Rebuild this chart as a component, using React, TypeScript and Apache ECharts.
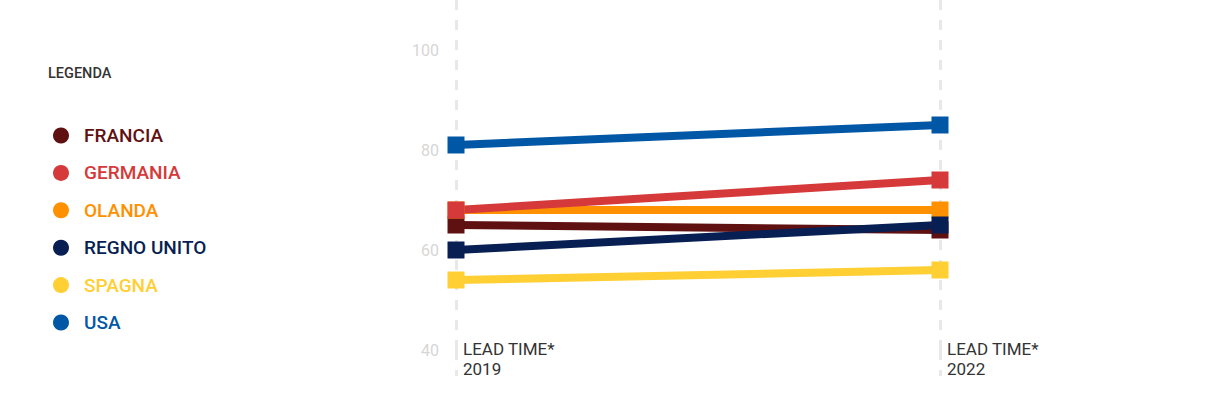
import React, { useEffect, useRef } from "react";
import * as echarts from "echarts";

const years = ["2019", "2022"];
const countries = ["FRANCIA", "GERMANIA", "OLANDA", "REGNO UNITO", "SPAGNA", "USA"];
const colors = ["#5f1111", "#d5393a", "#ff9000", "#071f52", "#ffcf33", "#0057a6"];
const francia = [65, 64];
const germania = [68, 74];
const olanda = [68, 68];
const regnoUnito = [60, 65];
const spagna = [54, 56];
const usa = [81, 85];
const values = [francia, germania, olanda, regnoUnito, spagna, usa];
// drawing order (later is on top)
const drawOrder = [0, 2, 1, 3, 4, 5];
const yTicks = [40, 60, 80, 100];

export default function App() {
  const ref = useRef<HTMLDivElement>(null);
  useEffect(() => {
    if (!ref.current) return;
    const chart = echarts.init(ref.current, undefined, { renderer: "svg" });
    const dash = { color: "#e8e8e8", width: 3, type: [10, 10] as number[] };
    chart.setOption({
      animation: false,
      textStyle: { fontFamily: "Roboto" },
      title: {
        text: "LEGENDA",
        left: 43,
        top: 61,
        textStyle: { fontSize: 14.5, fontWeight: 500, color: "#333", fontFamily: "Roboto" },
      },
      legend: {
        orient: "vertical",
        left: 48,
        top: 121,
        icon: "circle",
        itemWidth: 16,
        itemHeight: 16,
        itemGap: 18.4,
        selectedMode: false,
        data: countries.map((name, i) => ({
          name,
          textStyle: { color: colors[i] },
        })),
        textStyle: {
          fontSize: 19,
          fontWeight: 500,
          fontFamily: "Roboto",
          lineHeight: 17,
          padding: [0, 0, 0, 10],
        },
      },
      grid: { left: 456, right: 270, top: 0, height: 350 },
      xAxis: {
        type: "category",
        boundaryGap: false,
        data: years,
        axisLine: { show: false },
        axisTick: { show: true, length: 26, alignWithLabel: true, lineStyle: dash },
        splitLine: { show: true, lineStyle: dash },
        axisLabel: {
          interval: 0,
          formatter: "LEAD TIME*\n{value}",
          align: "left",
          verticalAlign: "top",
          margin: -11,
          padding: [0, 0, 0, 7],
          lineHeight: 20,
          fontSize: 17,
          color: "#333",
          fontFamily: "Roboto",
        },
      },
      yAxis: {
        type: "value",
        min: 40,
        max: 110,
        interval: 20,
        axisLine: { show: false },
        axisTick: { show: false },
        splitLine: { show: false },
        axisLabel: {
          margin: 17,
          fontSize: 16,
          color: "#d6d6d6",
          fontFamily: "Roboto",
          formatter: (v: number) => (yTicks.includes(v) ? String(v) : ""),
        },
      },
      series: drawOrder.map((i) => ({
        name: countries[i],
        type: "line",
        data: values[i],
        symbol: "rect",
        symbolSize: 17,
        color: colors[i],
        lineStyle: { width: 8, color: colors[i] },
        itemStyle: { color: colors[i] },
        emphasis: { disabled: true },
      })),
    });
    return () => chart.dispose();
  }, []);
  return (
    <div
      ref={ref}
      style={{ position: "fixed", left: 0, top: 0, width: 1210, height: 420, background: "#fff" }}
    />
  );
}
